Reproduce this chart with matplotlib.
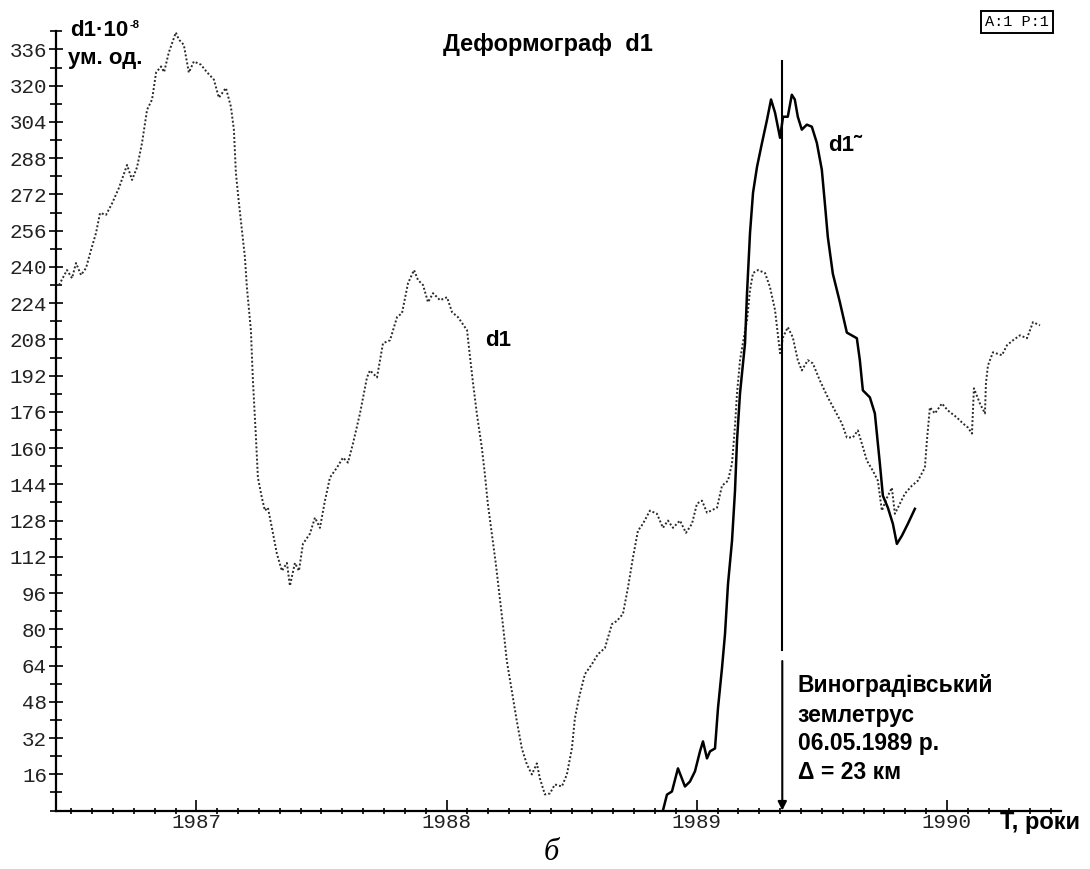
import matplotlib
matplotlib.use("Agg")
import matplotlib.pyplot as plt
from matplotlib.ticker import FixedLocator, MultipleLocator

# Deformograph d1, values in 1e-8 units, time in decimal years
d1_t = [1986.451, 1986.483, 1986.503, 1986.519, 1986.539, 1986.559, 1986.579, 1986.599,
        1986.615, 1986.639, 1986.663, 1986.691, 1986.723, 1986.743, 1986.763, 1986.783,
        1986.803, 1986.823, 1986.839, 1986.859, 1986.871, 1986.890, 1986.918, 1986.930,
        1986.950, 1986.970, 1986.990, 1987.018, 1987.042, 1987.070, 1987.090, 1987.118,
        1987.138, 1987.150, 1987.158, 1987.170, 1987.182, 1987.194, 1987.202, 1987.218,
        1987.226, 1987.238, 1987.246, 1987.262, 1987.274, 1987.286, 1987.302, 1987.322,
        1987.342, 1987.362, 1987.374, 1987.394, 1987.410, 1987.426, 1987.454, 1987.474,
        1987.494, 1987.514, 1987.534, 1987.562, 1987.586, 1987.606, 1987.626, 1987.654,
        1987.682, 1987.694, 1987.722, 1987.746, 1987.774, 1987.802, 1987.822, 1987.846,
        1987.870, 1987.886, 1987.906, 1987.926, 1987.946, 1987.974, 1988.002, 1988.022,
        1988.046, 1988.082, 1988.094, 1988.106, 1988.121, 1988.141, 1988.153, 1988.165,
        1988.181, 1988.197, 1988.213, 1988.225, 1988.241, 1988.261, 1988.281, 1988.301,
        1988.321, 1988.341, 1988.361, 1988.373, 1988.393, 1988.413, 1988.433, 1988.461,
        1988.481, 1988.501, 1988.513, 1988.529, 1988.553, 1988.581, 1988.605, 1988.633,
        1988.661, 1988.681, 1988.705, 1988.725, 1988.745, 1988.765, 1988.785, 1988.813,
        1988.841, 1988.865, 1988.885, 1988.905, 1988.933, 1988.957, 1988.981, 1989.001,
        1989.021, 1989.041, 1989.081, 1989.101, 1989.125, 1989.141, 1989.153, 1989.161,
        1989.173, 1989.185, 1989.201, 1989.213, 1989.225, 1989.245, 1989.273, 1989.293,
        1989.313, 1989.321, 1989.333, 1989.345, 1989.364, 1989.384, 1989.404, 1989.420,
        1989.444, 1989.464, 1989.492, 1989.524, 1989.552, 1989.580, 1989.600, 1989.624,
        1989.644, 1989.660, 1989.680, 1989.704, 1989.724, 1989.740, 1989.760, 1989.780,
        1989.792, 1989.812, 1989.832, 1989.860, 1989.884, 1989.912, 1989.920, 1989.932,
        1989.952, 1989.980, 1990.004, 1990.040, 1990.064, 1990.084, 1990.100, 1990.108,
        1990.132, 1990.152, 1990.156, 1990.164, 1990.184, 1990.220, 1990.240, 1990.264,
        1990.292, 1990.320, 1990.344, 1990.372]
d1_v = [232, 238.6, 235, 241.7, 236.4, 239.5, 247.5, 255,
        263.8, 263, 268, 275, 285, 278.4, 284, 294.8,
        309.4, 313.9, 325.8, 328.5, 326, 334.7, 343.5, 340.4,
        338, 325.8, 330.7, 329.3, 326, 322.7, 314.7, 319,
        310.8, 300.6, 281.5, 268.3, 256.3, 244.4, 231, 212,
        190, 165, 147, 138, 132.4, 133.7, 124.8, 113.3,
        105.8, 109.3, 99.2, 109.3, 105.8, 117.7, 122.2, 129.3,
        124.8, 136.8, 147, 151.4, 155.8, 153.6, 162, 175.3,
        191.2, 194.3, 191.2, 206.3, 207.6, 217.8, 219.6, 232.8,
        238.6, 234.2, 232, 224.4, 228.4, 225.3, 226.6, 220,
        217.8, 212, 200, 188.6, 175.3, 160.2, 148.7, 135.5,
        122.2, 108.9, 93.8, 82.3, 66, 52.7, 39.4, 27.4,
        20.4, 15.9, 20.8, 14.2, 7.1, 7.5, 11.5, 10.6,
        15.9, 27.4, 40.7, 49.6, 60.2, 64.6, 69, 71.7,
        82.3, 83.7, 86.8, 98.3, 111.6, 123.5, 126.6, 132.4,
        131, 124.8, 128, 124.8, 128, 122.6, 126.6, 135.5,
        136.8, 131.5, 133.7, 143.4, 145.6, 153.2, 170, 184.2,
        198.8, 206.7, 216.5, 229.8, 237.3, 238.6, 237.3, 231,
        220.9, 213.4, 201.9, 208.9, 213.4, 208.9, 198.8, 194.3,
        198.8, 197.4, 189.9, 182.4, 176.6, 170.9, 164.7, 164.7,
        167.8, 162, 154.5, 150, 145.6, 132.4, 138, 142.5,
        131, 135.5, 139.9, 143.4, 145.6, 151.4, 163.3, 178,
        175.3, 179.7, 176.6, 173.5, 170.9, 169.1, 166.4, 186.4,
        179.7, 175.3, 188.6, 196.5, 202.3, 201, 205.4, 207.6,
        209.8, 208.5, 215.6, 214.2]

# filtered curve d1~
d1f_t = [1988.865, 1988.881, 1988.901, 1988.925, 1988.953, 1988.973, 1988.993, 1989.013,
         1989.025, 1989.041, 1989.053, 1989.073, 1989.085, 1989.101, 1989.113, 1989.125,
         1989.141, 1989.153, 1989.161, 1989.173, 1989.193, 1989.201, 1989.213, 1989.225,
         1989.241, 1989.261, 1989.281, 1989.297, 1989.313, 1989.333, 1989.345, 1989.364,
         1989.380, 1989.392, 1989.404, 1989.420, 1989.440, 1989.460, 1989.480, 1989.500,
         1989.512, 1989.524, 1989.544, 1989.572, 1989.600, 1989.640, 1989.652, 1989.664,
         1989.692, 1989.712, 1989.724, 1989.732, 1989.744, 1989.764, 1989.784, 1989.800,
         1989.820, 1989.844, 1989.872]
d1f_v = [0, 7, 8.4, 18.6, 10.6, 12.8, 17.3, 26.1,
         30.5, 23, 26.1, 27.4, 45.2, 62.9, 77.9, 100,
         119, 141.2, 163.3, 184.2, 206.3, 228.4, 255, 272.7,
         284.2, 294.8, 305, 313.9, 308.1, 297, 306.3, 306.3,
         316, 313.9, 306.3, 300.6, 302.8, 301.9, 294.8, 282.9,
         268.3, 253.2, 237, 224.5, 211, 208.5, 198.8, 185.5,
         182.4, 175.3, 162, 153.2, 139, 133.7, 126.6, 117.7,
         121.3, 126.6, 133.2]

quake_t = 1989.342          # 06.05.1989
year_ticks = [1987, 1988, 1989, 1990]
year_labels = ["1987", "1988", "1989", "1990"]
y_ticks = list(range(16, 337, 16))
event_lines = ["Виноградівський", "землетрус", "06.05.1989 р.", "\u0394 = 23 км"]

plt.rcParams['font.family'] = ['Liberation Sans', 'DejaVu Sans']

fig = plt.figure(figsize=(10.9, 8.69), dpi=100)
ax = fig.add_axes([56 / 1090, 58.5 / 869, 1005 / 1090, 792.75 / 869])
ax.set_xlim(1986.439, 1990.456)
ax.set_ylim(0, 350)

ax.plot(d1_t, d1_v, color='#2a2a2a', lw=1.4, linestyle=(0, (1, 1.1)))
ax.plot(d1f_t, d1f_v, color='black', lw=1.8)

# earthquake marker
ax.plot([quake_t, quake_t], [331, 71], color='black', lw=1.5)
ax.annotate('', xy=(quake_t, 0), xytext=(quake_t, 66),
            arrowprops=dict(arrowstyle='-|>', color='black', lw=1.5,
                            mutation_scale=13, shrinkA=0, shrinkB=0))

# axes styling
for s in ['top', 'right']:
    ax.spines[s].set_visible(False)
ax.spines['left'].set_bounds(0, 344)
for s in ['left', 'bottom']:
    ax.spines[s].set_linewidth(1.6)

ax.yaxis.set_major_locator(FixedLocator(y_ticks))
ax.yaxis.set_minor_locator(MultipleLocator(8))
ax.set_yticklabels([str(v) for v in y_ticks])
ax.xaxis.set_major_locator(FixedLocator(year_ticks))
ax.xaxis.set_minor_locator(MultipleLocator(1 / 12))
ax.set_xticklabels(year_labels)

ax.tick_params(axis='y', which='major', direction='inout', length=10, width=1.2,
               pad=1.5, labelsize=15, labelcolor='#222222')
ax.tick_params(axis='y', which='minor', direction='inout', length=8, width=1.2)
ax.tick_params(axis='x', which='major', direction='in', length=8, width=1.2,
               pad=2, labelsize=15, labelcolor='#222222')
ax.tick_params(axis='x', which='minor', direction='inout', length=5, width=1.2)
for lab in ax.get_xticklabels() + ax.get_yticklabels():
    lab.set_fontfamily('Liberation Mono')

bold = dict(fontweight='bold', color='black')
unit = ax.text(1986.495, 344.5, "d1·10", fontsize=16, ha='left', va='center', **bold)
ax.annotate("-8", xy=(1.0, 1.0), xycoords=unit, xytext=(1, 0), textcoords='offset points',
            fontsize=8, ha='left', va='top', **bold)
ax.text(1986.487, 332.2, "ум. од.", fontsize=16, ha='left', va='center', **bold)
ax.text(1988.405, 338, "Деформограф  d1", fontsize=17, ha='center', va='center', **bold)
ax.text(1988.205, 207.6, "d1", fontsize=16, ha='center', va='center', **bold)
ax.text(1989.524, 293.8, "d1\u02dc", fontsize=16, ha='left', va='center', **bold)
for line, y in zip(event_lines, [55.2, 42, 29.6, 16.8]):
    ax.text(1989.404, y, line, fontsize=16.5, ha='left', va='center', **bold)
ax.text(1990.214, -5.5, "T, роки", fontsize=17, ha='left', va='center', **bold)

fig.text(1017 / 1090, 1 - 22 / 869, "A:1 P:1", fontsize=11, family='Liberation Mono',
         ha='center', va='center',
         bbox=dict(boxstyle='square,pad=0.25', fc='white', ec='black', lw=1.4))
fig.text(551 / 1090, 1 - 852 / 869, "б", fontsize=22, family='Liberation Serif',
         style='italic', ha='center', va='center')

fig.savefig("out.png", dpi=100)
